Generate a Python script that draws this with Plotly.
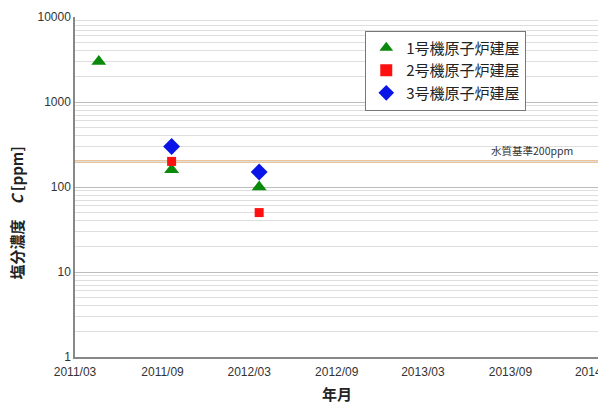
import plotly.graph_objects as go
import numpy as np

# Data
dates_1 = ["2011-04-20", "2011-09-20", "2012-03-22"]
vals_1 = [3000, 160, 100]
dates_2 = ["2011-09-20", "2012-03-22"]
vals_2 = [200, 50]
dates_3 = ["2011-09-20", "2012-03-22"]
vals_3 = [300, 150]
names = ["1号機原子炉建屋", "2号機原子炉建屋", "3号機原子炉建屋"]
standard_value = 200
standard_label = "水質基準200ppm"
y_tickvals = [1, 10, 100, 1000, 10000]
y_ticktext = ["1", "10", "100", "1000", "10000"]

font_lat = "Liberation Sans, Arial, sans-serif"
font_cjk = "Noto Sans CJK JP, sans-serif"

fig = go.Figure()
fig.add_trace(go.Scatter(x=dates_1, y=vals_1, mode="markers", name=names[0],
                         marker=dict(symbol="triangle-up", size=13, color="#0a8a0a")))
fig.add_trace(go.Scatter(x=dates_2, y=vals_2, mode="markers", name=names[1],
                         marker=dict(symbol="square", size=9, color="#ff1010")))
fig.add_trace(go.Scatter(x=dates_3, y=vals_3, mode="markers", name=names[2],
                         marker=dict(symbol="diamond", size=13, color="#0a14e6")))

fig.add_shape(type="line", xref="paper", x0=0, x1=1, yref="y",
              y0=standard_value, y1=standard_value,
              line=dict(color="#dc8a30", width=2), layer="between")
fig.add_annotation(xref="paper", x=0.956, yref="y", y=np.log10(standard_value),
                   text=standard_label, showarrow=False, xanchor="right",
                   yanchor="bottom", yshift=1,
                   font=dict(family=font_cjk, size=10.5, color="#333333"))

minor_vals = [m * 10 ** d for d in range(4) for m in range(2, 10)]

fig.update_layout(
    width=598, height=405,
    margin=dict(l=75, r=0, t=17, b=48, autoexpand=False),
    paper_bgcolor="white", plot_bgcolor="white",
    showlegend=True,
    legend=dict(x=0.555, y=0.96, xanchor="left", yanchor="top",
                bordercolor="#777777", borderwidth=1, bgcolor="white",
                font=dict(family=font_cjk, size=15, color="#222222"),
                itemsizing="constant", tracegroupgap=0),
    xaxis=dict(type="date", range=["2011-03-01", "2014-03-04"],
               tick0="2011-03-01", dtick="M6", tickformat="%Y/%m",
               showgrid=False, zeroline=False, automargin=False,
               showline=True, linecolor="#888888", linewidth=1.5,
               ticks="", ticklabeloverflow="allow", ticklabelstandoff=3,
               tickfont=dict(family=font_lat, size=12, color="#333333")),
    yaxis=dict(type="log", range=[0, 4], tickvals=y_tickvals, ticktext=y_ticktext,
               showgrid=True, gridcolor="#bdbdbd", gridwidth=1, automargin=False,
               showline=True, linecolor="#888888", linewidth=1.5,
               ticks="", zeroline=False,
               minor=dict(tickvals=minor_vals, showgrid=True, gridcolor="#dedede", gridwidth=1),
               tickfont=dict(family=font_lat, size=12, color="#333333")),
)

fig.add_annotation(xref="paper", yref="paper", x=-0.111, y=0.425,
                   xanchor="center", yanchor="middle",
                   text="<b>塩分濃度　<i>C</i> [ppm]</b>", textangle=-90, showarrow=False,
                   font=dict(family=font_cjk, size=15, color="#222222"))
fig.add_annotation(xref="paper", yref="paper", x=0.5, y=-0.106, yanchor="middle",
                   text="<b>年月</b>", showarrow=False,
                   font=dict(family=font_cjk, size=15, color="#222222"))

fig.write_html("out.html")
